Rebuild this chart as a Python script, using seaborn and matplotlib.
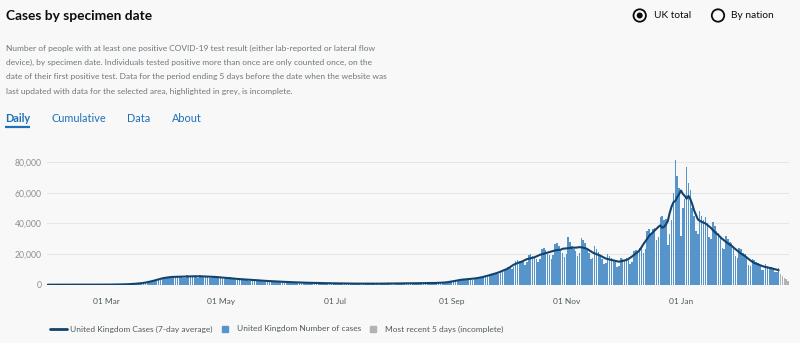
import numpy as np
import pandas as pd
import matplotlib
matplotlib.use("Agg")
import matplotlib.pyplot as plt
import seaborn as sns
from matplotlib.lines import Line2D
from matplotlib.patches import Circle

# ---------------- data ----------------
start_date = "2020-01-30"
# daily cases by specimen date, one row per week (Thu..Wed)
cases_rows = [
    [2, 0, 0, 0, 0, 1, 0],
    [1, 0, 0, 2, 1, 0, 1],
    [0, 0, 0, 0, 1, 0, 0],
    [3, 5, 0, 2, 10, 12, 16],
    [20, 30, 25, 30, 55, 60, 75],
    [90, 110, 100, 110, 170, 200, 250],
    [300, 330, 300, 400, 600, 650, 720],
    [900, 1000, 950, 1100, 1700, 1900, 2200],
    [2600, 2900, 2800, 3100, 4100, 4400, 4600],
    [5000, 5100, 4300, 4400, 5600, 5500, 5400],
    [5500, 5200, 4600, 4500, 6200, 5900, 5800],
    [5800, 5600, 4700, 4600, 6100, 5900, 5800],
    [5600, 5400, 4400, 4300, 6000, 5700, 5500],
    [5000, 4600, 3700, 3600, 5200, 5000, 4800],
    [4100, 3700, 3000, 3100, 4300, 4100, 3900],
    [3400, 3200, 2600, 2500, 3700, 3500, 3300],
    [2800, 2600, 2100, 2000, 2900, 2800, 2700],
    [2300, 2100, 1700, 1600, 2400, 2300, 2200],
    [1900, 1700, 1400, 1300, 1900, 1800, 1700],
    [1500, 1400, 1100, 1100, 1600, 1500, 1400],
    [1200, 1100, 900, 850, 1300, 1250, 1150],
    [1000, 950, 780, 750, 1100, 1050, 1000],
    [850, 820, 650, 620, 950, 900, 850],
    [750, 720, 580, 560, 820, 780, 740],
    [700, 680, 540, 520, 760, 730, 700],
    [740, 720, 560, 550, 820, 800, 780],
    [820, 800, 640, 620, 920, 900, 880],
    [920, 900, 720, 700, 1050, 1020, 980],
    [1050, 1000, 800, 780, 1150, 1120, 1080],
    [1150, 1100, 880, 870, 1300, 1250, 1200],
    [1500, 1450, 1200, 1300, 2000, 2100, 2200],
    [2900, 3000, 2600, 2900, 3700, 3800, 3600],
    [3900, 3800, 3300, 3500, 4600, 4600, 4400],
    [5200, 5300, 4700, 5100, 6800, 6900, 6700],
    [7600, 7800, 6900, 7500, 9800, 10000, 9900],
    [11500, 11500, 10000, 11800, 15500, 15800, 15200],
    [15500, 15000, 13000, 14500, 19500, 20000, 19000],
    [17500, 17000, 15000, 17000, 23500, 24000, 22500],
    [20000, 19500, 17000, 19500, 26500, 27000, 25000],
    [22000, 21000, 18000, 20000, 31000, 28000, 25500],
    [23500, 22000, 18500, 21000, 30500, 29000, 27000],
    [22500, 20500, 16500, 17500, 25000, 23500, 21500],
    [18500, 17000, 13500, 14000, 20000, 19000, 17500],
    [16000, 15000, 11500, 12000, 17500, 17000, 16000],
    [17500, 17000, 13500, 14500, 22000, 22500, 22000],
    [24000, 24000, 20500, 23000, 35000, 36500, 34000],
    [36000, 37000, 29000, 31000, 44000, 45000, 42000],
    [43000, 26000, 33000, 42000, 60000, 81500, 71000],
    [63000, 32000, 50000, 56000, 76500, 66000, 62000],
    [50000, 45000, 35000, 33000, 48000, 45000, 42000],
    [44000, 40000, 31000, 30000, 41000, 38000, 35000],
    [34000, 31000, 24000, 23000, 32000, 30000, 28000],
    [27000, 24500, 18500, 17500, 24000, 23000, 21000],
    [20000, 17500, 13000, 12500, 17000, 16000, 14500],
    [14000, 12500, 9500, 9500, 13500, 12500, 11500],
    [11500, 10500, 8000, 8000, 11000, 7000, 5700],
    [4400, 3400, 2200],
]
incomplete_days = 5
tick_dates = ["2020-03-01", "2020-05-01", "2020-07-01", "2020-09-01", "2020-11-01", "2021-01-01"]
tick_labels = ["01 Mar", "01 May", "01 Jul", "01 Sep", "01 Nov", "01 Jan"]
y_ticks = [0, 20000, 40000, 60000, 80000]

title = "Cases by specimen date"
description = [
    "Number of people with at least one positive COVID-19 test result (either lab-reported or lateral flow",
    "device), by specimen date. Individuals tested positive more than once are only counted once, on the",
    "date of their first positive test. Data for the period ending 5 days before the date when the website was",
    "last updated with data for the selected area, highlighted in grey, is incomplete.",
]
tabs = ["Daily", "Cumulative", "Data", "About"]
legend_labels = ["United Kingdom Cases (7-day average)", "United Kingdom Number of cases",
                 "Most recent 5 days (incomplete)"]

# ---------------- build frame ----------------
cases = [v for row in cases_rows for v in row]
n = len(cases)
dates = pd.date_range(start_date, periods=n, freq="D")
df = pd.DataFrame({"idx": np.arange(n), "date": dates, "cases": cases})
df["status"] = ["complete"] * (n - incomplete_days) + ["incomplete"] * incomplete_days
complete = df["cases"].where(df["status"] == "complete")
df["avg"] = complete.rolling(7, center=True, min_periods=4).mean()
df.loc[df["status"] == "incomplete", "avg"] = np.nan

# ---------------- style ----------------
BG = "#f8f8f8"
BLUE = "#5694ca"
NAVY = "#12436d"
GREY = "#b1b4b6"
TXT = "#0b0c0c"
SUB = "#6f777b"
LINK = "#1d70b8"

sns.set_style("white")
FONT = ["Lato", "DejaVu Sans"]
plt.rcParams["font.family"] = FONT

fig = plt.figure(figsize=(8.0, 3.43), dpi=100, facecolor=BG)
ax = fig.add_axes([46.8 / 800, (343 - 284.7) / 343, 742.2 / 800, 128.8 / 343])
ax.set_facecolor(BG)

sns.barplot(data=df, x="idx", y="cases", hue="status",
            palette={"complete": BLUE, "incomplete": GREY},
            dodge=False, width=0.8, saturation=1, linewidth=0,
            legend=False, ax=ax, zorder=2)
line_df = df.dropna(subset=["avg"])
sns.lineplot(x=line_df["idx"], y=line_df["avg"], color=NAVY, linewidth=1.5, ax=ax, zorder=3)

ax.set_xlim(-0.5, n - 0.5)
ax.set_ylim(0, 84000)
start = pd.Timestamp(start_date)
tick_pos = [(pd.Timestamp(d) - start).days for d in tick_dates]
ax.set_xticks(tick_pos, labels=tick_labels)
ax.set_yticks(y_ticks, labels=[f"{v:,}" for v in y_ticks])
ax.set_xlabel("")
ax.set_ylabel("")
for s in ax.spines.values():
    s.set_visible(False)
ax.spines["bottom"].set_position(("outward", 5))
ax.tick_params(axis="x", length=2.5, width=0.8, color="#8a8a8a", labelsize=6.0, labelcolor="#505a5f", pad=2)
ax.tick_params(axis="y", length=0, labelsize=6.2, labelcolor="#8f8f8f", pad=3.5)
ax.grid(axis="y", color="#e6e6e6", linewidth=0.8, zorder=0)
ax.grid(axis="x", visible=False)
ax.set_axisbelow(True)

# ---------------- decorations (pixel coordinates) ----------------
deco = fig.add_axes([0, 0, 1, 1], zorder=-1)
deco.set_xlim(0, 800)
deco.set_ylim(343, 0)
deco.axis("off")

deco.text(5.5, 16, title, fontsize=9.9, fontweight="bold", color=TXT, va="center", ha="left")
for i, line in enumerate(description):
    deco.text(5.5, 48 + i * 14.4, line, fontsize=6.05, color=SUB, va="center", ha="left")

tab_x = [5, 52, 127, 172]
for i, (t, x) in enumerate(zip(tabs, tab_x)):
    deco.text(x, 118.5, t, fontsize=7.8, color=LINK, va="center", ha="left",
              fontweight="bold" if i == 0 else "normal")
deco.plot([5, 29.5], [127.2, 127.2], color=LINK, linewidth=1.6, solid_capstyle="butt")

# radio buttons
deco.add_patch(Circle((639.7, 15.5), 6.2, facecolor="none", edgecolor=TXT, linewidth=1.3))
deco.add_patch(Circle((639.7, 15.5), 3.0, facecolor=TXT, edgecolor="none"))
deco.text(654, 15.5, "UK total", fontsize=7.3, color=TXT, va="center", ha="left")
deco.add_patch(Circle((718, 15.5), 6.2, facecolor="none", edgecolor=TXT, linewidth=1.3))
deco.text(731, 15.5, "By nation", fontsize=7.3, color=TXT, va="center", ha="left")

# legend
handles = [
    Line2D([], [], color=NAVY, linewidth=2),
    Line2D([], [], color=BLUE, marker="s", markersize=4, linestyle="none"),
    Line2D([], [], color=GREY, marker="s", markersize=4, linestyle="none"),
]
fig.legend(handles, legend_labels, loc="center left", bbox_to_anchor=(50 / 800, 1 - 329 / 343),
           ncol=3, frameon=False, fontsize=6.0, handlelength=2.0, handletextpad=0.4,
           columnspacing=0.5, labelcolor="#505a5f", borderaxespad=0, borderpad=0)

fig.savefig("out.png", dpi=100, facecolor=BG)
